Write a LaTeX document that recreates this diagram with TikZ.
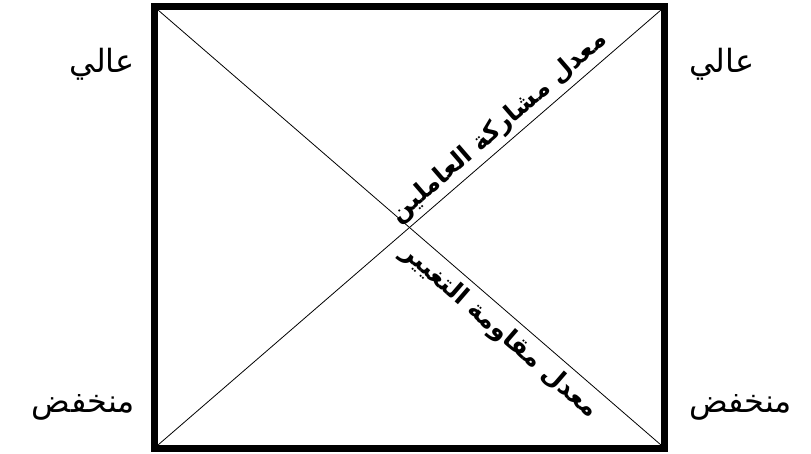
\documentclass[tikz,border=0pt]{standalone}
\usepackage{fontspec}
\newfontfamily\arabicfont[Script=Arabic]{DejaVu Sans}
\TeXXeTstate=1
\usepackage{tikz}

\begin{document}
\begin{tikzpicture}[x=1pt, y=1pt,
  lvl/.style={font=\arabicfont\fontsize{32}{36}\selectfont, inner sep=0pt},
  axislbl/.style={font=\arabicfont\bfseries\fontsize{25}{29}\selectfont, inner sep=4pt, sloped}]
\useasboundingbox (0,0) rectangle (811,454);
\draw[line width=6.5pt] (154.5,5.5) rectangle (664.5,447.5);
\coordinate (bl) at (158,9);
\coordinate (br) at (661,9);
\coordinate (tl) at (158,444);
\coordinate (tr) at (661,444);
\draw[line width=0.8pt] (bl) -- (tr) node[axislbl, pos=0.70, above] (part) {\beginR معدل مشاركة العاملين\endR};
\draw[line width=0.8pt] (tl) -- (br) node[axislbl, pos=0.705, below, inner sep=7pt] (resist) {\beginR معدل مقاومة التغيير\endR};
\node[lvl, anchor=base east] (highl) at (135,381) {\beginR عالي\endR};
\node[lvl, anchor=base west] (highr) at (689,381) {\beginR عالي\endR};
\node[lvl, anchor=base east] (lowl) at (135,41) {\beginR منخفض\endR};
\node[lvl, anchor=base west] (lowr) at (689,41) {\beginR منخفض\endR};
\end{tikzpicture}
\end{document}
